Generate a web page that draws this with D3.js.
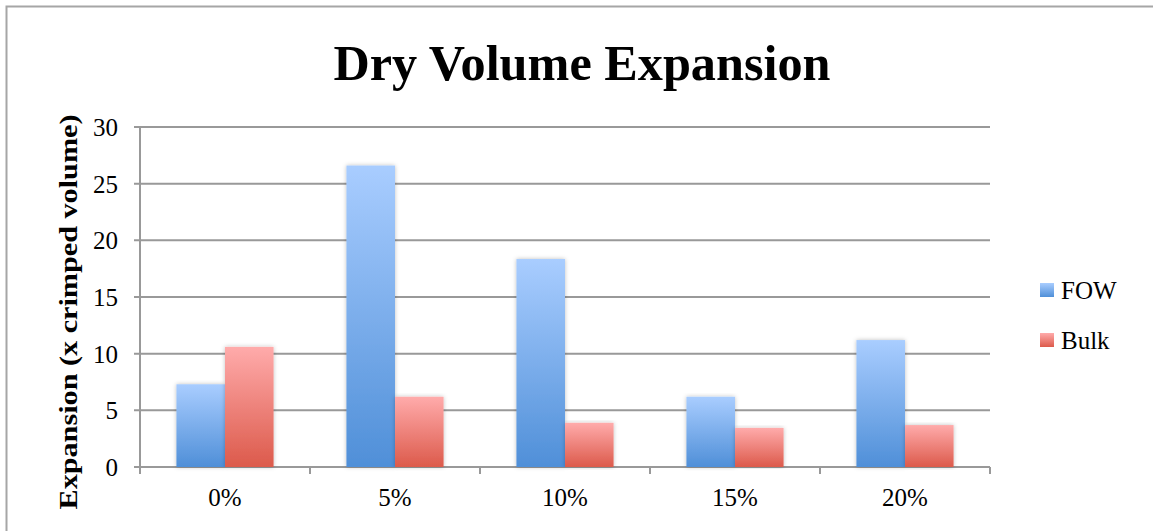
<!DOCTYPE html>
<html>
<head>
<meta charset="utf-8">
<script src="https://cdn.jsdelivr.net/npm/d3@7"></script>
<style>
  body { margin: 0; background: #fff; }
  text { font-family: "Liberation Serif", "DejaVu Serif", serif; }
</style>
</head>
<body>
<script>
const w = 1153
const h = 531

// Data: dry volume expansion (x crimped volume)
const categories = ["0%", "5%", "10%", "15%", "20%"]
const seriesNames = ["FOW", "Bulk"]
const fowValues = [7.3, 26.6, 18.35, 6.2, 11.2]
const bulkValues = [10.6, 6.2, 3.9, 3.45, 3.7]
const yTicks = [0, 5, 10, 15, 20, 25, 30]

const margin = {left: 140, right: 163, top: 127, bottom: 64}

const svg = d3.select("body")
              .append("svg")
              .attr("width", w)
              .attr("height", h)

// gradients for the bars (light top, darker bottom)
const defs = svg.append("defs")
const grads = [
  {id: "g-fow", top: "#a9cdff", bottom: "#4f8fd8"},
  {id: "g-bulk", top: "#ffabab", bottom: "#dc5a4b"}
]
grads.forEach(g => {
  const lg = defs.append("linearGradient")
                 .attr("id", g.id)
                 .attr("x1", 0).attr("y1", 0)
                 .attr("x2", 0).attr("y2", 1)
  lg.append("stop").attr("offset", "0%").attr("stop-color", g.top)
  lg.append("stop").attr("offset", "100%").attr("stop-color", g.bottom)
})
const shadow = defs.append("filter").attr("id", "shadow")
                   .attr("x", "-20%").attr("y", "-5%").attr("width", "140%").attr("height", "110%")
shadow.append("feDropShadow")
      .attr("dx", 0).attr("dy", 0).attr("stdDeviation", 2)
      .attr("flood-color", "#000").attr("flood-opacity", 0.25)

// outer frame
svg.append("rect")
   .attr("x", 6.5).attr("y", 6.5)
   .attr("width", w + 10).attr("height", h + 10)
   .attr("fill", "none")
   .attr("stroke", "#a6a6a6")
   .attr("stroke-width", 2)

const x0 = d3.scaleBand()
             .domain(categories)
             .range([margin.left, w - margin.right])

const x1 = d3.scaleBand()
             .domain(seriesNames)
             .range([0, x0.bandwidth()])
             .paddingInner(0)
             .paddingOuter(0.75)

const y = d3.scaleLinear()
            .domain([0, 30])
            .range([h - margin.bottom, margin.top])

// gridlines
svg.append("g")
   .selectAll("line")
   .data(yTicks)
   .enter()
   .append("line")
   .attr("x1", margin.left - 6)
   .attr("x2", w - margin.right)
   .attr("y1", d => y(d))
   .attr("y2", d => y(d))
   .attr("stroke", "#999")
   .attr("stroke-width", 2)

// y axis line
svg.append("line")
   .attr("x1", margin.left).attr("x2", margin.left)
   .attr("y1", y(30)).attr("y2", y(0) + 6)
   .attr("stroke", "#999").attr("stroke-width", 2)

// x ticks
const xTickPos = categories.map(c => x0(c)).concat([x0(categories[categories.length - 1]) + x0.bandwidth()])
svg.append("g")
   .selectAll("line")
   .data(xTickPos)
   .enter()
   .append("line")
   .attr("x1", d => d).attr("x2", d => d)
   .attr("y1", y(0)).attr("y2", y(0) + 7)
   .attr("stroke", "#999").attr("stroke-width", 2)

// bars
const rows = categories.map((c, i) => ({cat: c, vals: [fowValues[i], bulkValues[i]]}))
const groups = svg.append("g")
   .selectAll("g")
   .data(rows)
   .enter()
   .append("g")
   .attr("transform", d => `translate(${x0(d.cat)},0)`)

groups.selectAll("rect")
   .data(d => d.vals.map((v, j) => ({name: seriesNames[j], value: v})))
   .enter()
   .append("rect")
   .attr("x", d => x1(d.name))
   .attr("width", x1.bandwidth())
   .attr("y", d => y(d.value))
   .attr("height", d => y(0) - y(d.value))
   .attr("fill", d => d.name === "FOW" ? "url(#g-fow)" : "url(#g-bulk)")
   .attr("filter", "url(#shadow)")

// y tick labels
svg.append("g")
   .selectAll("text")
   .data(yTicks)
   .enter()
   .append("text")
   .attr("x", 118)
   .attr("y", d => y(d) + 9)
   .attr("text-anchor", "end")
   .attr("font-size", 25)
   .text(d => d)

// x tick labels
svg.append("g")
   .selectAll("text")
   .data(categories)
   .enter()
   .append("text")
   .attr("x", d => x0(d) + x0.bandwidth() / 2)
   .attr("y", 506)
   .attr("text-anchor", "middle")
   .attr("font-size", 25)
   .text(d => d)

// title
svg.append("text")
   .attr("x", 582)
   .attr("y", 80)
   .attr("text-anchor", "middle")
   .attr("font-size", 50)
   .attr("font-weight", "bold")
   .attr("textLength", 497)
   .attr("lengthAdjust", "spacingAndGlyphs")
   .text("Dry Volume Expansion")

// y axis title
svg.append("text")
   .attr("transform", `translate(77, 312) rotate(-90)`)
   .attr("text-anchor", "middle")
   .attr("font-size", 26)
   .attr("font-weight", "bold")
   .attr("textLength", 395)
   .attr("lengthAdjust", "spacingAndGlyphs")
   .text("Expansion (x crimped volume)")

// legend
const legend = svg.append("g")
   .selectAll("g")
   .data(seriesNames)
   .enter()
   .append("g")
   .attr("transform", (d, i) => `translate(1040, ${283 + i * 50})`)

legend.append("rect")
   .attr("width", 14).attr("height", 14)
   .attr("fill", d => d === "FOW" ? "url(#g-fow)" : "url(#g-bulk)")

legend.append("text")
   .attr("x", 21)
   .attr("y", 16)
   .attr("font-size", 25)
   .text(d => d)
</script>
</body>
</html>
